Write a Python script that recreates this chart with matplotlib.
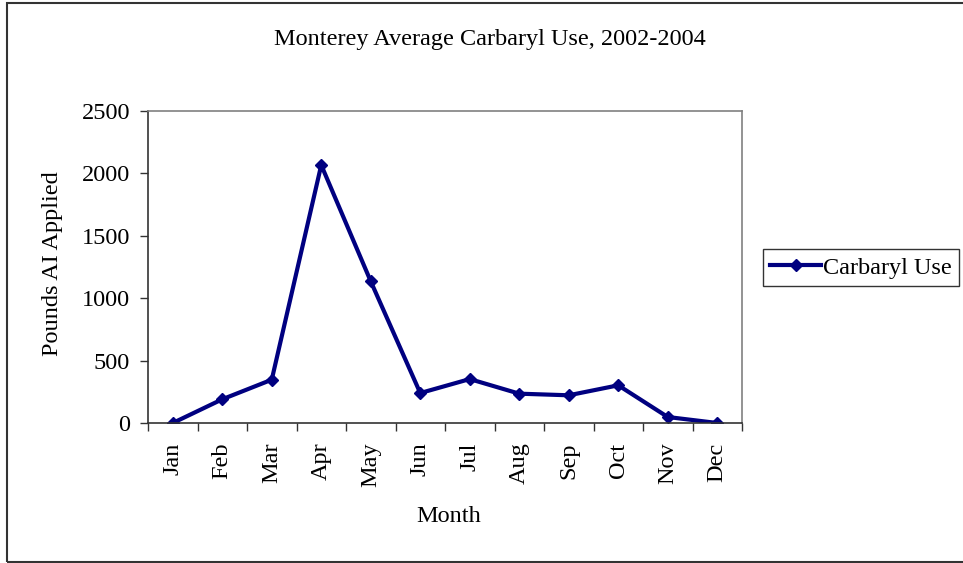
import matplotlib
matplotlib.use("Agg")
import numpy as np
import matplotlib.pyplot as plt
from matplotlib.patches import Rectangle

months = ["Jan", "Feb", "Mar", "Apr", "May", "Jun",
          "Jul", "Aug", "Sep", "Oct", "Nov", "Dec"]
carbaryl_use = [0, 190, 347, 2067, 1135, 240, 352, 235, 222, 302, 48, 0]
y_ticks = [0, 500, 1000, 1500, 2000, 2500]

plt.rcParams["font.family"] = ["Liberation Serif", "DejaVu Serif"]
plt.rcParams["font.size"] = 17.5

W, H = 963, 563
fig = plt.figure(figsize=(W / 100, H / 100), dpi=100)
ax = fig.add_axes([148 / W, 1 - 423 / H, (742 - 148) / W, (423 - 111) / H])

x = np.arange(len(months))
line, = ax.plot(x, carbaryl_use, color="#000080", linewidth=3.0,
                marker="D", markersize=6, label="Carbaryl Use")

ax.set_xlim(-0.5, len(months) - 0.5)
ax.set_ylim(0, 2500)
ax.set_yticks(y_ticks)
ax.set_xticks(x)
ax.set_xticklabels(months, rotation=90)
ax.set_xticks(np.arange(-0.5, len(months), 1.0), minor=True)
ax.tick_params(axis="x", which="major", length=0, pad=14)
ax.tick_params(axis="x", which="minor", length=6, width=1, color="#333333")
ax.tick_params(axis="y", length=6, width=1, color="#333333", pad=7)

ax.spines["left"].set_color("#333333")
ax.spines["bottom"].set_color("#333333")
ax.spines["top"].set_color("#808080")
ax.spines["right"].set_color("#808080")
for s in ax.spines.values():
    s.set_linewidth(1.2)

ax.set_xlabel("Month")
ax.xaxis.label.set_va("center")
ax.xaxis.set_label_coords((449 - 148) / 594, (423 - 517) / 312)
ax.set_ylabel("Pounds AI Applied")
ax.yaxis.label.set_va("center")
ax.yaxis.set_label_coords((52 - 148) / 594, (423 - 264) / 312)

fig.text(490 / W, 1 - 40 / H, "Monterey Average Carbaryl Use, 2002-2004",
         ha="center", va="center", fontsize=17.5)

leg = fig.legend(handles=[line], loc="center left",
                 bbox_to_anchor=(763 / W, 1 - 267.5 / H),
                 frameon=True, fancybox=False, edgecolor="black",
                 handlelength=2.1, borderpad=0.3, handletextpad=0.05,
                 borderaxespad=0, fontsize=17.5)
leg.get_frame().set_linewidth(1.0)

fig.patches.append(Rectangle((7 / W, 1 / H), 1.0, 1 - 4 / H,
                             transform=fig.transFigure, fill=False,
                             edgecolor="#333333", linewidth=1.5))

fig.savefig("out.png", dpi=100)
